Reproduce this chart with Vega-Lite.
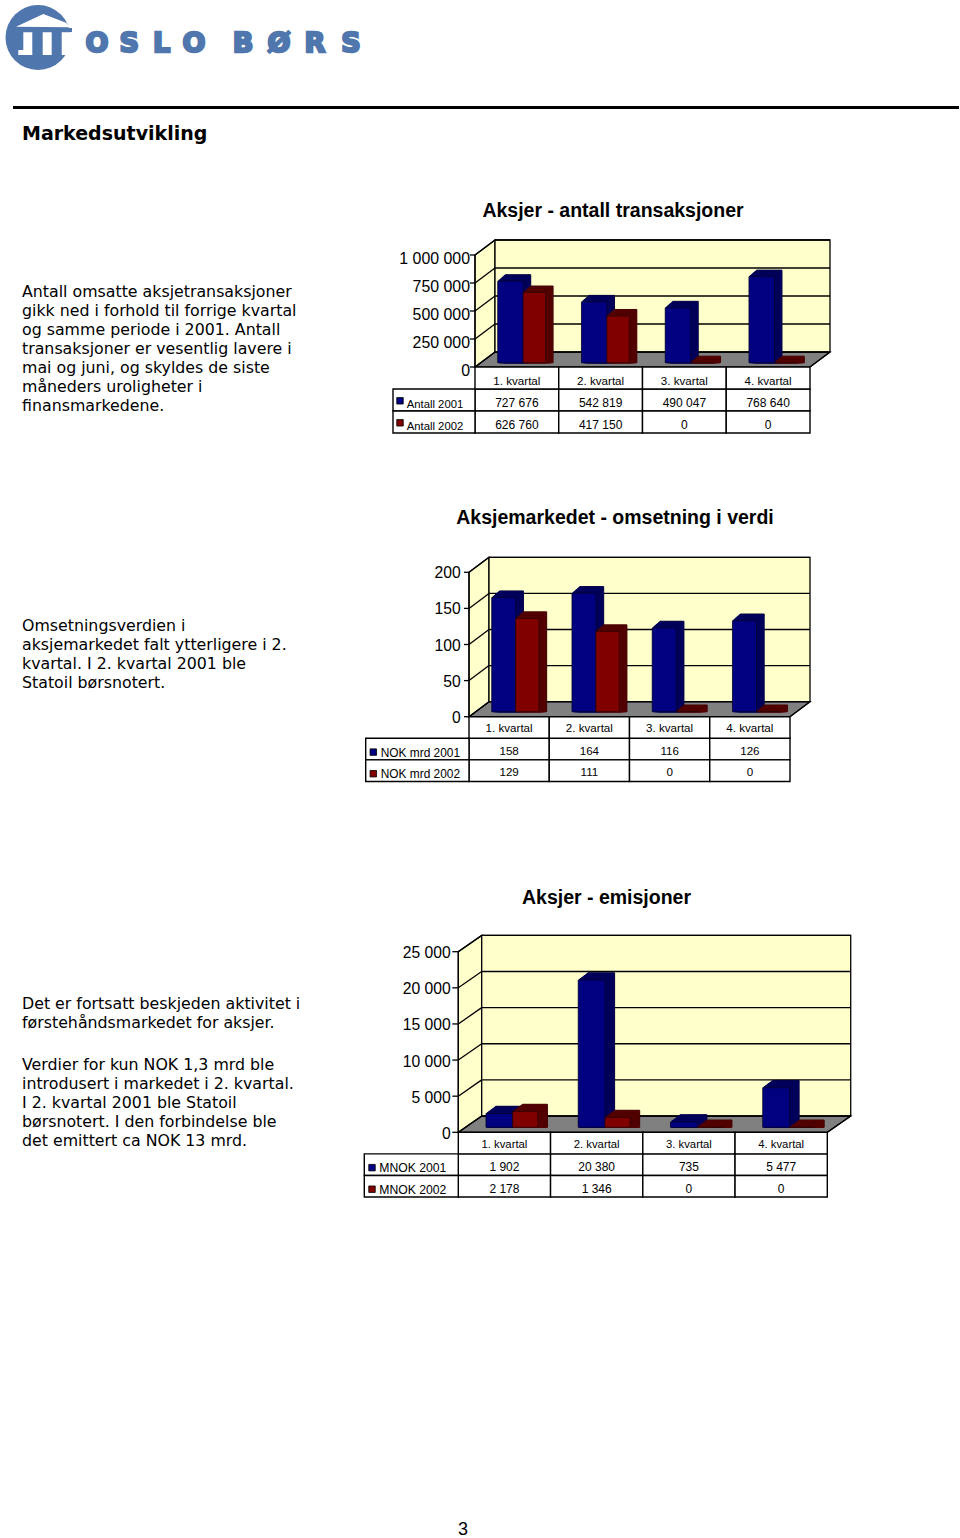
{"$schema":"https://vega.github.io/schema/vega-lite/v6.json","width":960,"height":1538,"padding":0,"autosize":{"type":"fit","contains":"padding"},"background":"#ffffff",
"config":{"view":{"stroke":null},"axis":{"disable":true},"text":{"font":"Liberation Sans","color":"#000000"},"rule":{"color":"#000000"}},
"datasets":{
"c1":[{"quarter":"1. kvartal","series":"Antall 2001","value":727676,"label":"727 676"},{"quarter":"2. kvartal","series":"Antall 2001","value":542819,"label":"542 819"},{"quarter":"3. kvartal","series":"Antall 2001","value":490047,"label":"490 047"},{"quarter":"4. kvartal","series":"Antall 2001","value":768640,"label":"768 640"},{"quarter":"1. kvartal","series":"Antall 2002","value":626760,"label":"626 760"},{"quarter":"2. kvartal","series":"Antall 2002","value":417150,"label":"417 150"},{"quarter":"3. kvartal","series":"Antall 2002","value":0,"label":"0"},{"quarter":"4. kvartal","series":"Antall 2002","value":0,"label":"0"}],
"c2":[{"quarter":"1. kvartal","series":"NOK mrd 2001","value":158,"label":"158"},{"quarter":"2. kvartal","series":"NOK mrd 2001","value":164,"label":"164"},{"quarter":"3. kvartal","series":"NOK mrd 2001","value":116,"label":"116"},{"quarter":"4. kvartal","series":"NOK mrd 2001","value":126,"label":"126"},{"quarter":"1. kvartal","series":"NOK mrd 2002","value":129,"label":"129"},{"quarter":"2. kvartal","series":"NOK mrd 2002","value":111,"label":"111"},{"quarter":"3. kvartal","series":"NOK mrd 2002","value":0,"label":"0"},{"quarter":"4. kvartal","series":"NOK mrd 2002","value":0,"label":"0"}],
"c3":[{"quarter":"1. kvartal","series":"MNOK 2001","value":1902,"label":"1 902"},{"quarter":"2. kvartal","series":"MNOK 2001","value":20380,"label":"20 380"},{"quarter":"3. kvartal","series":"MNOK 2001","value":735,"label":"735"},{"quarter":"4. kvartal","series":"MNOK 2001","value":5477,"label":"5 477"},{"quarter":"1. kvartal","series":"MNOK 2002","value":2178,"label":"2 178"},{"quarter":"2. kvartal","series":"MNOK 2002","value":1346,"label":"1 346"},{"quarter":"3. kvartal","series":"MNOK 2002","value":0,"label":"0"},{"quarter":"4. kvartal","series":"MNOK 2002","value":0,"label":"0"}],
"t1":[{"tick":0,"label":"0"},{"tick":250000,"label":"250 000"},{"tick":500000,"label":"500 000"},{"tick":750000,"label":"750 000"},{"tick":1000000,"label":"1 000 000"}],
"t2":[{"tick":0,"label":"0"},{"tick":50,"label":"50"},{"tick":100,"label":"100"},{"tick":150,"label":"150"},{"tick":200,"label":"200"}],
"t3":[{"tick":0,"label":"0"},{"tick":5000,"label":"5 000"},{"tick":10000,"label":"10 000"},{"tick":15000,"label":"15 000"},{"tick":20000,"label":"20 000"},{"tick":25000,"label":"25 000"}],
"f1":[{"depth":0,"top":7.4667,"right":16.75},{"depth":1,"top":8.4667,"right":17.75}],
"f2":[{"depth":0,"top":9.627,"right":16.05},{"depth":1,"top":10.627,"right":17.05}],
"f3":[{"depth":0,"top":11.08,"right":15.77},{"depth":1,"top":12.08,"right":16.77}]
},
"resolve":{"scale":{"x":"independent","y":"independent"}},
"layer":[
{"layer":[
{"data":{"values":[{"element":"disc"}]},"mark":{"type":"point","shape":"circle","filled":true,"opacity":1,"color":"#4f76ad","size":4225},"encoding":{"x":{"datum":38,"type":"quantitative","scale":{"domain":[0,960],"range":[0,960]}},"y":{"datum":37.5,"type":"quantitative","scale":{"domain":[0,1538],"range":[0,1538]}}}},
{"data":{"values":[{"element":"temple"}]},"mark":{"type":"point","filled":true,"opacity":1,"color":"#ffffff","size":4624,"shape":"M-.647 -.315L.156 -.688L.824 -.432L1 -.25L1 -.303L-.647 -.315ZM-.432 -.153L-.168 -.153L-.168 .515L-.579 .515L-.579 .368L-.432 .368ZM.138 -.153L.403 -.153L.403 .515L.138 .515ZM.697 -.153L1 -.153L1 .515L.697 .515Z"},"encoding":{"x":{"datum":38,"type":"quantitative","scale":{"domain":[0,960],"range":[0,960]}},"y":{"datum":37.5,"type":"quantitative","scale":{"domain":[0,1538],"range":[0,1538]}}}},
{"data":{"values":[{"element":"lintel"}]},"mark":{"type":"rule","strokeWidth":4,"color":"#4f76ad"},"encoding":{"x":{"datum":18,"type":"quantitative","scale":{"domain":[0,960],"range":[0,960]}},"x2":{"datum":72},"y":{"datum":30,"type":"quantitative","scale":{"domain":[0,1538],"range":[0,1538]}}}},
{"data":{"values":[{"element":"rule"}]},"mark":{"type":"rule","strokeWidth":3,"color":"#000000"},"encoding":{"x":{"datum":13,"type":"quantitative","scale":{"domain":[0,960],"range":[0,960]}},"x2":{"datum":959},"y":{"datum":107.5,"type":"quantitative","scale":{"domain":[0,1538],"range":[0,1538]}}}},
{"data":{"values":[{"text":"Markedsutvikling"}]},"mark":{"type":"text","align":"left","baseline":"middle","font":"DejaVu Sans","fontWeight":"bold","fontSize":19},"encoding":{"x":{"datum":22,"type":"quantitative","scale":{"domain":[0,960],"range":[0,960]}},"y":{"datum":133.5,"type":"quantitative","scale":{"domain":[0,1538],"range":[0,1538]}},"text":{"field":"text"}}},
{"data":{"values":[{"text":"Aksjer - antall transaksjoner"}]},"mark":{"type":"text","align":"center","baseline":"middle","fontWeight":"bold","fontSize":19.5},"encoding":{"x":{"datum":613,"type":"quantitative","scale":{"domain":[0,960],"range":[0,960]}},"y":{"datum":210.5,"type":"quantitative","scale":{"domain":[0,1538],"range":[0,1538]}},"text":{"field":"text"}}},
{"data":{"values":[{"text":"Aksjemarkedet - omsetning i verdi"}]},"mark":{"type":"text","align":"center","baseline":"middle","fontWeight":"bold","fontSize":19.5},"encoding":{"x":{"datum":615,"type":"quantitative","scale":{"domain":[0,960],"range":[0,960]}},"y":{"datum":517.5,"type":"quantitative","scale":{"domain":[0,1538],"range":[0,1538]}},"text":{"field":"text"}}},
{"data":{"values":[{"text":"Aksjer - emisjoner"}]},"mark":{"type":"text","align":"center","baseline":"middle","fontWeight":"bold","fontSize":19.5},"encoding":{"x":{"datum":606.5,"type":"quantitative","scale":{"domain":[0,960],"range":[0,960]}},"y":{"datum":897.5,"type":"quantitative","scale":{"domain":[0,1538],"range":[0,1538]}},"text":{"field":"text"}}},
{"data":{"values":[{"text":"3"}]},"mark":{"type":"text","align":"center","baseline":"middle","fontSize":18},"encoding":{"x":{"datum":463,"type":"quantitative","scale":{"domain":[0,960],"range":[0,960]}},"y":{"datum":1529.5,"type":"quantitative","scale":{"domain":[0,1538],"range":[0,1538]}},"text":{"field":"text"}}}
]},
{"data":{"values":[{"i":0,"letter":"O"},{"i":1,"letter":"S"},{"i":2,"letter":"L"},{"i":3,"letter":"O"}]},"mark":{"type":"text","font":"DejaVu Sans","fontWeight":"bold","fontSize":27,"baseline":"middle","color":"#4f76ad","stroke":"#4f76ad","strokeWidth":2.4},"encoding":{"x":{"field":"i","type":"quantitative","scale":{"domain":[0,3],"range":[97,194]}},"y":{"datum":0,"type":"quantitative","scale":{"domain":[0,1],"range":[43.5,44]}},"text":{"field":"letter"}}},
{"data":{"values":[{"i":0,"letter":"B"},{"i":1,"letter":"Ø"},{"i":2,"letter":"R"},{"i":3,"letter":"S"}]},"mark":{"type":"text","font":"DejaVu Sans","fontWeight":"bold","fontSize":27,"baseline":"middle","color":"#4f76ad","stroke":"#4f76ad","strokeWidth":2.4},"encoding":{"x":{"field":"i","type":"quantitative","scale":{"domain":[0,3],"range":[243,351]}},"y":{"datum":0,"type":"quantitative","scale":{"domain":[0,1],"range":[43.5,44]}},"text":{"field":"letter"}}},

{"data":{"values":[{"line":0,"text":"Antall omsatte aksjetransaksjoner"},{"line":1,"text":"gikk ned i forhold til forrige kvartal"},{"line":2,"text":"og samme periode i 2001. Antall"},{"line":3,"text":"transaksjoner er vesentlig lavere i"},{"line":4,"text":"mai og juni, og skyldes de siste"},{"line":5,"text":"måneders uroligheter i"},{"line":6,"text":"finansmarkedene."}]},"mark":{"type":"text","align":"left","baseline":"middle","font":"DejaVu Sans","fontSize":15.8},"encoding":{"x":{"datum":0,"type":"quantitative","scale":{"domain":[0,1],"range":[22,23]}},"y":{"field":"line","type":"quantitative","scale":{"domain":[0,1],"range":[291.5,310.5]}},"text":{"field":"text"}}},
{"data":{"values":[{"line":0,"text":"Omsetningsverdien i"},{"line":1,"text":"aksjemarkedet falt ytterligere i 2."},{"line":2,"text":"kvartal. I 2. kvartal 2001 ble"},{"line":3,"text":"Statoil børsnotert."}]},"mark":{"type":"text","align":"left","baseline":"middle","font":"DejaVu Sans","fontSize":15.8},"encoding":{"x":{"datum":0,"type":"quantitative","scale":{"domain":[0,1],"range":[22,23]}},"y":{"field":"line","type":"quantitative","scale":{"domain":[0,1],"range":[625.5,644.5]}},"text":{"field":"text"}}},
{"data":{"values":[{"line":0,"text":"Det er fortsatt beskjeden aktivitet i"},{"line":1,"text":"førstehåndsmarkedet for aksjer."}]},"mark":{"type":"text","align":"left","baseline":"middle","font":"DejaVu Sans","fontSize":15.8},"encoding":{"x":{"datum":0,"type":"quantitative","scale":{"domain":[0,1],"range":[22,23]}},"y":{"field":"line","type":"quantitative","scale":{"domain":[0,1],"range":[1003.5,1022.5]}},"text":{"field":"text"}}},
{"data":{"values":[{"line":0,"text":"Verdier for kun NOK 1,3 mrd ble"},{"line":1,"text":"introdusert i markedet i 2. kvartal."},{"line":2,"text":"I 2. kvartal 2001 ble Statoil"},{"line":3,"text":"børsnotert. I den forbindelse ble"},{"line":4,"text":"det emittert ca NOK 13 mrd."}]},"mark":{"type":"text","align":"left","baseline":"middle","font":"DejaVu Sans","fontSize":15.8},"encoding":{"x":{"datum":0,"type":"quantitative","scale":{"domain":[0,1],"range":[22,23]}},"y":{"field":"line","type":"quantitative","scale":{"domain":[0,1],"range":[1065,1084]}},"text":{"field":"text"}}},

{"data":{"name":"f1"},"encoding":{"x":{"field":"depth","type":"quantitative","scale":{"domain":[0,1],"range":[475,495]}},"y":{"field":"depth","type":"quantitative","scale":{"domain":[0,1],"range":[367,352]}}},"layer":[
{"mark":{"type":"area","orient":"horizontal","color":"#808080","stroke":"#000000","strokeWidth":1.2},"encoding":{"x2":{"field":"right"}}},
{"mark":{"type":"area","color":"#ffffcc","stroke":"#000000","strokeWidth":1.3},"encoding":{"y2":{"field":"top"}}},
{"transform":[{"filter":"datum.depth===1"}],"mark":{"type":"rect","color":"#ffffcc","stroke":"#000000","strokeWidth":1.3},"encoding":{"x2":{"field":"right"},"y2":{"field":"top"}}}
]},
{"data":{"name":"t1"},"encoding":{"x":{"datum":0,"type":"quantitative","scale":{"domain":[0,1],"range":[475,810]}},"y":{"field":"tick","type":"quantitative","scale":{"domain":[0,1000000],"range":[367,255]}}},"layer":[
{"mark":{"type":"rule","strokeWidth":1.3,"xOffset":20,"x2Offset":20,"yOffset":-15},"encoding":{"x2":{"datum":1}}},
{"mark":{"type":"rule","strokeWidth":1.3,"x2Offset":20,"y2Offset":-15},"encoding":{"x2":{"datum":0},"y2":{"field":"tick"}}},
{"mark":{"type":"rule","strokeWidth":1.3,"xOffset":-5},"encoding":{"x2":{"datum":0}}},
{"transform":[{"filter":"datum.tick===1000000"}],"mark":{"type":"rule","strokeWidth":1.3},"encoding":{"y2":{"datum":0}}},
{"transform":[{"filter":"datum.tick===0"}],"mark":{"type":"rule","strokeWidth":1.3,"x2Offset":20,"y2Offset":-15},"encoding":{"x":{"datum":1},"x2":{"datum":1},"y2":{"field":"tick"}}},
{"mark":{"type":"text","align":"right","baseline":"middle","fontSize":15.9,"xOffset":-5,"yOffset":4},"encoding":{"text":{"field":"label"}}}
]},
{"data":{"name":"c1"},"transform":[{"filter":"datum.series==='Antall 2001'"}],"encoding":{"x":{"field":"quarter","type":"nominal","sort":null,"scale":{"domain":["1. kvartal","2. kvartal","3. kvartal","4. kvartal"],"range":[468.6,803.6],"paddingInner":0.6955,"paddingOuter":0.3478}},"y":{"field":"value","type":"quantitative","stack":null,"scale":{"domain":[0,1000000],"range":[362.7,250.7]}}},"layer":[
{"mark":{"type":"bar","color":"#00005a","stroke":"#000040","strokeWidth":1,"xOffset":7.5,"yOffset":-6.5,"y2Offset":-6.5}},
{"mark":{"type":"bar","color":"#00005a","stroke":"#00005a","strokeWidth":1,"xOffset":6.6,"yOffset":-5.7,"y2Offset":-5.7}},
{"mark":{"type":"bar","color":"#00005a","stroke":"#00005a","strokeWidth":1,"xOffset":5.6,"yOffset":-4.9,"y2Offset":-4.9}},
{"mark":{"type":"bar","color":"#00005a","stroke":"#00005a","strokeWidth":1,"xOffset":4.7,"yOffset":-4.1,"y2Offset":-4.1}},
{"mark":{"type":"bar","color":"#00005a","stroke":"#00005a","strokeWidth":1,"xOffset":3.8,"yOffset":-3.3,"y2Offset":-3.3}},
{"mark":{"type":"bar","color":"#00005a","stroke":"#00005a","strokeWidth":1,"xOffset":2.8,"yOffset":-2.4,"y2Offset":-2.4}},
{"mark":{"type":"bar","color":"#00005a","stroke":"#00005a","strokeWidth":1,"xOffset":1.9,"yOffset":-1.6,"y2Offset":-1.6}},
{"mark":{"type":"bar","color":"#00005a","stroke":"#00005a","strokeWidth":1,"xOffset":0.9,"yOffset":-0.8,"y2Offset":-0.8}},
{"mark":{"type":"bar","color":"#000080","stroke":"#000030","strokeWidth":0.8}}
]},
{"data":{"name":"c1"},"transform":[{"filter":"datum.series==='Antall 2002'"}],"encoding":{"x":{"field":"quarter","type":"nominal","sort":null,"scale":{"domain":["1. kvartal","2. kvartal","3. kvartal","4. kvartal"],"range":[492.5,827.5],"paddingInner":0.7325,"paddingOuter":0.3663}},"y":{"field":"value","type":"quantitative","stack":null,"scale":{"domain":[0,1000000],"range":[362.7,250.7]}}},"layer":[
{"mark":{"type":"bar","color":"#520000","stroke":"#400000","strokeWidth":1,"xOffset":7.5,"yOffset":-6.5,"y2Offset":-6.5}},
{"mark":{"type":"bar","color":"#520000","stroke":"#520000","strokeWidth":1,"xOffset":6.6,"yOffset":-5.7,"y2Offset":-5.7}},
{"mark":{"type":"bar","color":"#520000","stroke":"#520000","strokeWidth":1,"xOffset":5.6,"yOffset":-4.9,"y2Offset":-4.9}},
{"mark":{"type":"bar","color":"#520000","stroke":"#520000","strokeWidth":1,"xOffset":4.7,"yOffset":-4.1,"y2Offset":-4.1}},
{"mark":{"type":"bar","color":"#520000","stroke":"#520000","strokeWidth":1,"xOffset":3.8,"yOffset":-3.3,"y2Offset":-3.3}},
{"mark":{"type":"bar","color":"#520000","stroke":"#520000","strokeWidth":1,"xOffset":2.8,"yOffset":-2.4,"y2Offset":-2.4}},
{"mark":{"type":"bar","color":"#520000","stroke":"#520000","strokeWidth":1,"xOffset":1.9,"yOffset":-1.6,"y2Offset":-1.6}},
{"mark":{"type":"bar","color":"#520000","stroke":"#520000","strokeWidth":1,"xOffset":0.9,"yOffset":-0.8,"y2Offset":-0.8}},
{"mark":{"type":"bar","color":"#800000","stroke":"#300000","strokeWidth":0.8}}
]},
{"data":{"name":"c1"},"encoding":{"x":{"field":"quarter","type":"nominal","sort":null,"scale":{"domain":["1. kvartal","2. kvartal","3. kvartal","4. kvartal"],"range":[475,810],"padding":0}},"y":{"field":"series","type":"nominal","sort":null,"scale":{"domain":["header","Antall 2001","Antall 2002"],"range":[367,433],"padding":0}}},"layer":[
{"mark":{"type":"rect","fill":"#ffffff","stroke":"#000000","strokeWidth":1.4}},
{"transform":[{"filter":"datum.series==='Antall 2001'"}],"mark":{"type":"rect","fill":"#ffffff","stroke":"#000000","strokeWidth":1.4},"encoding":{"y":{"datum":"header","type":"nominal"}}},
{"mark":{"type":"text","baseline":"middle","fontSize":12,"yOffset":3},"encoding":{"text":{"field":"label"}}},
{"transform":[{"filter":"datum.series==='Antall 2001'"}],"mark":{"type":"text","baseline":"middle","fontSize":11.6,"yOffset":3.5},"encoding":{"y":{"datum":"header","type":"nominal"},"text":{"field":"quarter"}}}
]},
{"data":{"name":"c1"},"transform":[{"filter":"datum.quarter==='1. kvartal'"}],"encoding":{"x":{"datum":0,"type":"quantitative","scale":{"domain":[0,1],"range":[393,475]}},"y":{"field":"series","type":"nominal","sort":null,"scale":{"domain":["header","Antall 2001","Antall 2002"],"range":[367,433],"padding":0}}},"layer":[
{"mark":{"type":"rect","fill":"#ffffff","stroke":"#000000","strokeWidth":1.4},"encoding":{"x2":{"datum":1}}},
{"mark":{"type":"point","shape":"square","filled":true,"opacity":1,"size":42,"stroke":"#000000","strokeWidth":0.8,"xOffset":7,"yOffset":0.8},"encoding":{"fill":{"field":"series","type":"nominal","legend":null,"scale":{"domain":["Antall 2001","Antall 2002"],"range":["#000080","#800000"]}}}},
{"mark":{"type":"text","align":"left","baseline":"middle","fontSize":11.3,"xOffset":13.7,"yOffset":4.5},"encoding":{"text":{"field":"series"}}}
]},

{"data":{"name":"f2"},"encoding":{"x":{"field":"depth","type":"quantitative","scale":{"domain":[0,1],"range":[469,489]}},"y":{"field":"depth","type":"quantitative","scale":{"domain":[0,1],"range":[716.7,701.7]}}},"layer":[
{"mark":{"type":"area","orient":"horizontal","color":"#808080","stroke":"#000000","strokeWidth":1.2},"encoding":{"x2":{"field":"right"}}},
{"mark":{"type":"area","color":"#ffffcc","stroke":"#000000","strokeWidth":1.3},"encoding":{"y2":{"field":"top"}}},
{"transform":[{"filter":"datum.depth===1"}],"mark":{"type":"rect","color":"#ffffcc","stroke":"#000000","strokeWidth":1.3},"encoding":{"x2":{"field":"right"},"y2":{"field":"top"}}}
]},
{"data":{"name":"t2"},"encoding":{"x":{"datum":0,"type":"quantitative","scale":{"domain":[0,1],"range":[469,790]}},"y":{"field":"tick","type":"quantitative","scale":{"domain":[0,200],"range":[716.7,572.3]}}},"layer":[
{"mark":{"type":"rule","strokeWidth":1.3,"xOffset":20,"x2Offset":20,"yOffset":-15},"encoding":{"x2":{"datum":1}}},
{"mark":{"type":"rule","strokeWidth":1.3,"x2Offset":20,"y2Offset":-15},"encoding":{"x2":{"datum":0},"y2":{"field":"tick"}}},
{"mark":{"type":"rule","strokeWidth":1.3,"xOffset":-5},"encoding":{"x2":{"datum":0}}},
{"transform":[{"filter":"datum.tick===200"}],"mark":{"type":"rule","strokeWidth":1.3},"encoding":{"y2":{"datum":0}}},
{"transform":[{"filter":"datum.tick===0"}],"mark":{"type":"rule","strokeWidth":1.3,"x2Offset":20,"y2Offset":-15},"encoding":{"x":{"datum":1},"x2":{"datum":1},"y2":{"field":"tick"}}},
{"mark":{"type":"text","align":"right","baseline":"middle","fontSize":15.7,"xOffset":-8.3,"yOffset":1},"encoding":{"text":{"field":"label"}}}
]},
{"data":{"name":"c2"},"transform":[{"filter":"datum.series==='NOK mrd 2001'"}],"encoding":{"x":{"field":"quarter","type":"nominal","sort":null,"scale":{"domain":["1. kvartal","2. kvartal","3. kvartal","4. kvartal"],"range":[463.6,784.6],"paddingInner":0.7009,"paddingOuter":0.3505}},"y":{"field":"value","type":"quantitative","stack":null,"scale":{"domain":[0,200],"range":[711.7,567.3]}}},"layer":[
{"mark":{"type":"bar","color":"#00005a","stroke":"#000040","strokeWidth":1,"xOffset":7.7,"yOffset":-6.7,"y2Offset":-6.7}},
{"mark":{"type":"bar","color":"#00005a","stroke":"#00005a","strokeWidth":1,"xOffset":6.7,"yOffset":-5.9,"y2Offset":-5.9}},
{"mark":{"type":"bar","color":"#00005a","stroke":"#00005a","strokeWidth":1,"xOffset":5.8,"yOffset":-5,"y2Offset":-5}},
{"mark":{"type":"bar","color":"#00005a","stroke":"#00005a","strokeWidth":1,"xOffset":4.8,"yOffset":-4.2,"y2Offset":-4.2}},
{"mark":{"type":"bar","color":"#00005a","stroke":"#00005a","strokeWidth":1,"xOffset":3.8,"yOffset":-3.4,"y2Offset":-3.4}},
{"mark":{"type":"bar","color":"#00005a","stroke":"#00005a","strokeWidth":1,"xOffset":2.9,"yOffset":-2.5,"y2Offset":-2.5}},
{"mark":{"type":"bar","color":"#00005a","stroke":"#00005a","strokeWidth":1,"xOffset":1.9,"yOffset":-1.7,"y2Offset":-1.7}},
{"mark":{"type":"bar","color":"#00005a","stroke":"#00005a","strokeWidth":1,"xOffset":1,"yOffset":-0.8,"y2Offset":-0.8}},
{"mark":{"type":"bar","color":"#000080","stroke":"#000030","strokeWidth":0.8}}
]},
{"data":{"name":"c2"},"transform":[{"filter":"datum.series==='NOK mrd 2002'"}],"encoding":{"x":{"field":"quarter","type":"nominal","sort":null,"scale":{"domain":["1. kvartal","2. kvartal","3. kvartal","4. kvartal"],"range":[487.2,808.2],"paddingInner":0.7097,"paddingOuter":0.3548}},"y":{"field":"value","type":"quantitative","stack":null,"scale":{"domain":[0,200],"range":[711.7,567.3]}}},"layer":[
{"mark":{"type":"bar","color":"#520000","stroke":"#400000","strokeWidth":1,"xOffset":7.7,"yOffset":-6.7,"y2Offset":-6.7}},
{"mark":{"type":"bar","color":"#520000","stroke":"#520000","strokeWidth":1,"xOffset":6.7,"yOffset":-5.9,"y2Offset":-5.9}},
{"mark":{"type":"bar","color":"#520000","stroke":"#520000","strokeWidth":1,"xOffset":5.8,"yOffset":-5,"y2Offset":-5}},
{"mark":{"type":"bar","color":"#520000","stroke":"#520000","strokeWidth":1,"xOffset":4.8,"yOffset":-4.2,"y2Offset":-4.2}},
{"mark":{"type":"bar","color":"#520000","stroke":"#520000","strokeWidth":1,"xOffset":3.8,"yOffset":-3.4,"y2Offset":-3.4}},
{"mark":{"type":"bar","color":"#520000","stroke":"#520000","strokeWidth":1,"xOffset":2.9,"yOffset":-2.5,"y2Offset":-2.5}},
{"mark":{"type":"bar","color":"#520000","stroke":"#520000","strokeWidth":1,"xOffset":1.9,"yOffset":-1.7,"y2Offset":-1.7}},
{"mark":{"type":"bar","color":"#520000","stroke":"#520000","strokeWidth":1,"xOffset":1,"yOffset":-0.8,"y2Offset":-0.8}},
{"mark":{"type":"bar","color":"#800000","stroke":"#300000","strokeWidth":0.8}}
]},
{"data":{"name":"c2"},"encoding":{"x":{"field":"quarter","type":"nominal","sort":null,"scale":{"domain":["1. kvartal","2. kvartal","3. kvartal","4. kvartal"],"range":[469,790],"padding":0}},"y":{"field":"series","type":"nominal","sort":null,"scale":{"domain":["header","NOK mrd 2001","NOK mrd 2002"],"range":[716.7,781.5],"padding":0}}},"layer":[
{"mark":{"type":"rect","fill":"#ffffff","stroke":"#000000","strokeWidth":1.4}},
{"transform":[{"filter":"datum.series==='NOK mrd 2001'"}],"mark":{"type":"rect","fill":"#ffffff","stroke":"#000000","strokeWidth":1.4},"encoding":{"y":{"datum":"header","type":"nominal"}}},
{"mark":{"type":"text","baseline":"middle","fontSize":11.6,"yOffset":2.5},"encoding":{"text":{"field":"label"}}},
{"transform":[{"filter":"datum.series==='NOK mrd 2001'"}],"mark":{"type":"text","baseline":"middle","fontSize":11.6,"yOffset":1},"encoding":{"y":{"datum":"header","type":"nominal"},"text":{"field":"quarter"}}}
]},
{"data":{"name":"c2"},"transform":[{"filter":"datum.quarter==='1. kvartal'"}],"encoding":{"x":{"datum":0,"type":"quantitative","scale":{"domain":[0,1],"range":[365.7,469]}},"y":{"field":"series","type":"nominal","sort":null,"scale":{"domain":["header","NOK mrd 2001","NOK mrd 2002"],"range":[716.7,781.5],"padding":0}}},"layer":[
{"mark":{"type":"rect","fill":"#ffffff","stroke":"#000000","strokeWidth":1.4},"encoding":{"x2":{"datum":1}}},
{"mark":{"type":"point","shape":"square","filled":true,"opacity":1,"size":42,"stroke":"#000000","strokeWidth":0.8,"xOffset":7.6,"yOffset":3},"encoding":{"fill":{"field":"series","type":"nominal","legend":null,"scale":{"domain":["NOK mrd 2001","NOK mrd 2002"],"range":["#000080","#800000"]}}}},
{"mark":{"type":"text","align":"left","baseline":"middle","fontSize":11.9,"xOffset":15,"yOffset":3.5},"encoding":{"text":{"field":"series"}}}
]},

{"data":{"name":"f3"},"encoding":{"x":{"field":"depth","type":"quantitative","scale":{"domain":[0,1],"range":[458.3,481.7]}},"y":{"field":"depth","type":"quantitative","scale":{"domain":[0,1],"range":[1132.3,1116]}}},"layer":[
{"mark":{"type":"area","orient":"horizontal","color":"#808080","stroke":"#000000","strokeWidth":1.2},"encoding":{"x2":{"field":"right"}}},
{"mark":{"type":"area","color":"#ffffcc","stroke":"#000000","strokeWidth":1.3},"encoding":{"y2":{"field":"top"}}},
{"transform":[{"filter":"datum.depth===1"}],"mark":{"type":"rect","color":"#ffffcc","stroke":"#000000","strokeWidth":1.3},"encoding":{"x2":{"field":"right"},"y2":{"field":"top"}}}
]},
{"data":{"name":"t3"},"encoding":{"x":{"datum":0,"type":"quantitative","scale":{"domain":[0,1],"range":[458.3,827.3]}},"y":{"field":"tick","type":"quantitative","scale":{"domain":[0,25000],"range":[1132.3,951.7]}}},"layer":[
{"mark":{"type":"rule","strokeWidth":1.3,"xOffset":23.4,"x2Offset":23.4,"yOffset":-16.3},"encoding":{"x2":{"datum":1}}},
{"mark":{"type":"rule","strokeWidth":1.3,"x2Offset":23.4,"y2Offset":-16.3},"encoding":{"x2":{"datum":0},"y2":{"field":"tick"}}},
{"mark":{"type":"rule","strokeWidth":1.3,"xOffset":-6},"encoding":{"x2":{"datum":0}}},
{"transform":[{"filter":"datum.tick===25000"}],"mark":{"type":"rule","strokeWidth":1.3},"encoding":{"y2":{"datum":0}}},
{"transform":[{"filter":"datum.tick===0"}],"mark":{"type":"rule","strokeWidth":1.3,"x2Offset":23.4,"y2Offset":-16.3},"encoding":{"x":{"datum":1},"x2":{"datum":1},"y2":{"field":"tick"}}},
{"mark":{"type":"text","align":"right","baseline":"middle","fontSize":15.7,"xOffset":-7.6,"yOffset":1.5},"encoding":{"text":{"field":"label"}}}
]},
{"data":{"name":"c3"},"transform":[{"filter":"datum.series==='MNOK 2001'"}],"encoding":{"x":{"field":"quarter","type":"nominal","sort":null,"scale":{"domain":["1. kvartal","2. kvartal","3. kvartal","4. kvartal"],"range":[453.2,822.2],"paddingInner":0.7106,"paddingOuter":0.3553}},"y":{"field":"value","type":"quantitative","stack":null,"scale":{"domain":[0,25000],"range":[1127.3,946.7]}}},"layer":[
{"mark":{"type":"bar","color":"#00005a","stroke":"#000040","strokeWidth":1,"xOffset":9.7,"yOffset":-7.3,"y2Offset":-7.3}},
{"mark":{"type":"bar","color":"#00005a","stroke":"#00005a","strokeWidth":1,"xOffset":8.7,"yOffset":-6.6,"y2Offset":-6.6}},
{"mark":{"type":"bar","color":"#00005a","stroke":"#00005a","strokeWidth":1,"xOffset":7.8,"yOffset":-5.8,"y2Offset":-5.8}},
{"mark":{"type":"bar","color":"#00005a","stroke":"#00005a","strokeWidth":1,"xOffset":6.8,"yOffset":-5.1,"y2Offset":-5.1}},
{"mark":{"type":"bar","color":"#00005a","stroke":"#00005a","strokeWidth":1,"xOffset":5.8,"yOffset":-4.4,"y2Offset":-4.4}},
{"mark":{"type":"bar","color":"#00005a","stroke":"#00005a","strokeWidth":1,"xOffset":4.9,"yOffset":-3.7,"y2Offset":-3.7}},
{"mark":{"type":"bar","color":"#00005a","stroke":"#00005a","strokeWidth":1,"xOffset":3.9,"yOffset":-2.9,"y2Offset":-2.9}},
{"mark":{"type":"bar","color":"#00005a","stroke":"#00005a","strokeWidth":1,"xOffset":2.9,"yOffset":-2.2,"y2Offset":-2.2}},
{"mark":{"type":"bar","color":"#00005a","stroke":"#00005a","strokeWidth":1,"xOffset":1.9,"yOffset":-1.5,"y2Offset":-1.5}},
{"mark":{"type":"bar","color":"#00005a","stroke":"#00005a","strokeWidth":1,"xOffset":1,"yOffset":-0.7,"y2Offset":-0.7}},
{"mark":{"type":"bar","color":"#000080","stroke":"#000030","strokeWidth":0.8}}
]},
{"data":{"name":"c3"},"transform":[{"filter":"datum.series==='MNOK 2002'"}],"encoding":{"x":{"field":"quarter","type":"nominal","sort":null,"scale":{"domain":["1. kvartal","2. kvartal","3. kvartal","4. kvartal"],"range":[479.1,848.1],"paddingInner":0.729,"paddingOuter":0.3645}},"y":{"field":"value","type":"quantitative","stack":null,"scale":{"domain":[0,25000],"range":[1127.3,946.7]}}},"layer":[
{"mark":{"type":"bar","color":"#520000","stroke":"#400000","strokeWidth":1,"xOffset":9.7,"yOffset":-7.3,"y2Offset":-7.3}},
{"mark":{"type":"bar","color":"#520000","stroke":"#520000","strokeWidth":1,"xOffset":8.7,"yOffset":-6.6,"y2Offset":-6.6}},
{"mark":{"type":"bar","color":"#520000","stroke":"#520000","strokeWidth":1,"xOffset":7.8,"yOffset":-5.8,"y2Offset":-5.8}},
{"mark":{"type":"bar","color":"#520000","stroke":"#520000","strokeWidth":1,"xOffset":6.8,"yOffset":-5.1,"y2Offset":-5.1}},
{"mark":{"type":"bar","color":"#520000","stroke":"#520000","strokeWidth":1,"xOffset":5.8,"yOffset":-4.4,"y2Offset":-4.4}},
{"mark":{"type":"bar","color":"#520000","stroke":"#520000","strokeWidth":1,"xOffset":4.9,"yOffset":-3.7,"y2Offset":-3.7}},
{"mark":{"type":"bar","color":"#520000","stroke":"#520000","strokeWidth":1,"xOffset":3.9,"yOffset":-2.9,"y2Offset":-2.9}},
{"mark":{"type":"bar","color":"#520000","stroke":"#520000","strokeWidth":1,"xOffset":2.9,"yOffset":-2.2,"y2Offset":-2.2}},
{"mark":{"type":"bar","color":"#520000","stroke":"#520000","strokeWidth":1,"xOffset":1.9,"yOffset":-1.5,"y2Offset":-1.5}},
{"mark":{"type":"bar","color":"#520000","stroke":"#520000","strokeWidth":1,"xOffset":1,"yOffset":-0.7,"y2Offset":-0.7}},
{"mark":{"type":"bar","color":"#800000","stroke":"#300000","strokeWidth":0.8}}
]},
{"data":{"name":"c3"},"encoding":{"x":{"field":"quarter","type":"nominal","sort":null,"scale":{"domain":["1. kvartal","2. kvartal","3. kvartal","4. kvartal"],"range":[458.3,827.3],"padding":0}},"y":{"field":"series","type":"nominal","sort":null,"scale":{"domain":["header","MNOK 2001","MNOK 2002"],"range":[1132.3,1197],"padding":0}}},"layer":[
{"mark":{"type":"rect","fill":"#ffffff","stroke":"#000000","strokeWidth":1.4}},
{"transform":[{"filter":"datum.series==='MNOK 2001'"}],"mark":{"type":"rect","fill":"#ffffff","stroke":"#000000","strokeWidth":1.4},"encoding":{"y":{"datum":"header","type":"nominal"}}},
{"mark":{"type":"text","baseline":"middle","fontSize":12,"yOffset":2.5},"encoding":{"text":{"field":"label"}}},
{"transform":[{"filter":"datum.series==='MNOK 2001'"}],"mark":{"type":"text","baseline":"middle","fontSize":11.3,"yOffset":1.5},"encoding":{"y":{"datum":"header","type":"nominal"},"text":{"field":"quarter"}}}
]},
{"data":{"name":"c3"},"transform":[{"filter":"datum.quarter==='1. kvartal'"}],"encoding":{"x":{"datum":0,"type":"quantitative","scale":{"domain":[0,1],"range":[364.3,458.3]}},"y":{"field":"series","type":"nominal","sort":null,"scale":{"domain":["header","MNOK 2001","MNOK 2002"],"range":[1132.3,1197],"padding":0}}},"layer":[
{"mark":{"type":"rect","fill":"#ffffff","stroke":"#000000","strokeWidth":1.4},"encoding":{"x2":{"datum":1}}},
{"mark":{"type":"point","shape":"square","filled":true,"opacity":1,"size":42,"stroke":"#000000","strokeWidth":0.8,"xOffset":7.7,"yOffset":3},"encoding":{"fill":{"field":"series","type":"nominal","legend":null,"scale":{"domain":["MNOK 2001","MNOK 2002"],"range":["#000080","#800000"]}}}},
{"mark":{"type":"text","align":"left","baseline":"middle","fontSize":12.2,"xOffset":15,"yOffset":3.5},"encoding":{"text":{"field":"series"}}}
]}
]}
